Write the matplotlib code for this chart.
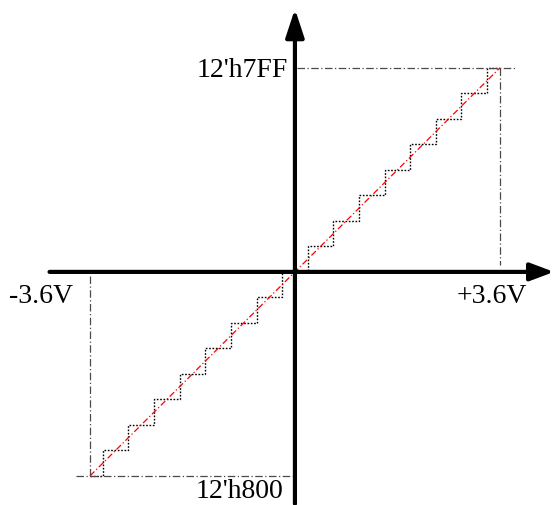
import matplotlib
matplotlib.use("Agg")
import matplotlib.pyplot as plt
import numpy as np

# ---- data ----
v_full = 3.6                      # full-scale input voltage (V)
n_half = 8                        # quantization steps per half range
levels = list(range(-8, 9))       # output levels (in steps), -8 ... +8
code_max_label = "12'h7FF"
code_min_label = "12'h800"
v_pos_label = "+3.6V"
v_neg_label = "-3.6V"

lsb_v = v_full / n_half
# step edges: first/last half-step, full steps in between
edges = [-n_half * lsb_v] + [(k + 0.5) * lsb_v for k in levels[:-1]] + [n_half * lsb_v]

# ---- figure ----
fig = plt.figure(figsize=(5.54, 5.06), dpi=100)
ax = fig.add_axes([0, 0, 1, 1])
ax.set_xlim(-5.18, 4.55)
ax.set_ylim(-9.14, 10.70)
ax.axis("off")

gray = "#4a4a4a"
# reference dash-dot lines
ax.plot([0.03, 3.86], [n_half, n_half], color=gray, lw=0.9, ls="-.", dashes=(6, 2, 1, 2))
ax.plot([v_full, v_full], [n_half, 0.27], color=gray, lw=0.9, ls="-.", dashes=(6, 2, 1, 2))
ax.plot([-3.85, -0.03], [-n_half, -n_half], color=gray, lw=0.9, ls="-.", dashes=(6, 2, 1, 2))
ax.plot([-v_full, -v_full], [-n_half, -0.08], color=gray, lw=0.9, ls="-.", dashes=(6, 2, 1, 2))

# staircase
ax.stairs(levels, edges, baseline=None, color="black", lw=1.0, ls=(0, (1.2, 1.2)))

# ideal line
ax.plot([-v_full, v_full], [-n_half, n_half], color="red", lw=0.9, ls="-.", dashes=(5, 2, 1, 2))

# axes with arrows
ax.annotate("", xy=(4.55, 0), xytext=(-4.31, 0),
            arrowprops=dict(arrowstyle="-|>,head_length=0.72,head_width=0.27",
                            lw=3, color="black", mutation_scale=20, shrinkA=0, shrinkB=0))
ax.annotate("", xy=(0, 10.31), xytext=(0, -9.1),
            arrowprops=dict(arrowstyle="-|>,head_length=0.85,head_width=0.28",
                            lw=3, color="black", mutation_scale=20, shrinkA=0, shrinkB=0))

font = dict(family="Liberation Serif", fontsize=20)
ax.text(-0.12, 7.70, code_max_label, ha="right", va="baseline", **font)
ax.text(-0.21, -8.84, code_min_label, ha="right", va="baseline", **font)
ax.text(-4.46, -1.18, v_neg_label, ha="center", va="baseline", **font)
ax.text(3.46, -1.18, v_pos_label, ha="center", va="baseline", **font)

fig.savefig("out.png", dpi=100)
